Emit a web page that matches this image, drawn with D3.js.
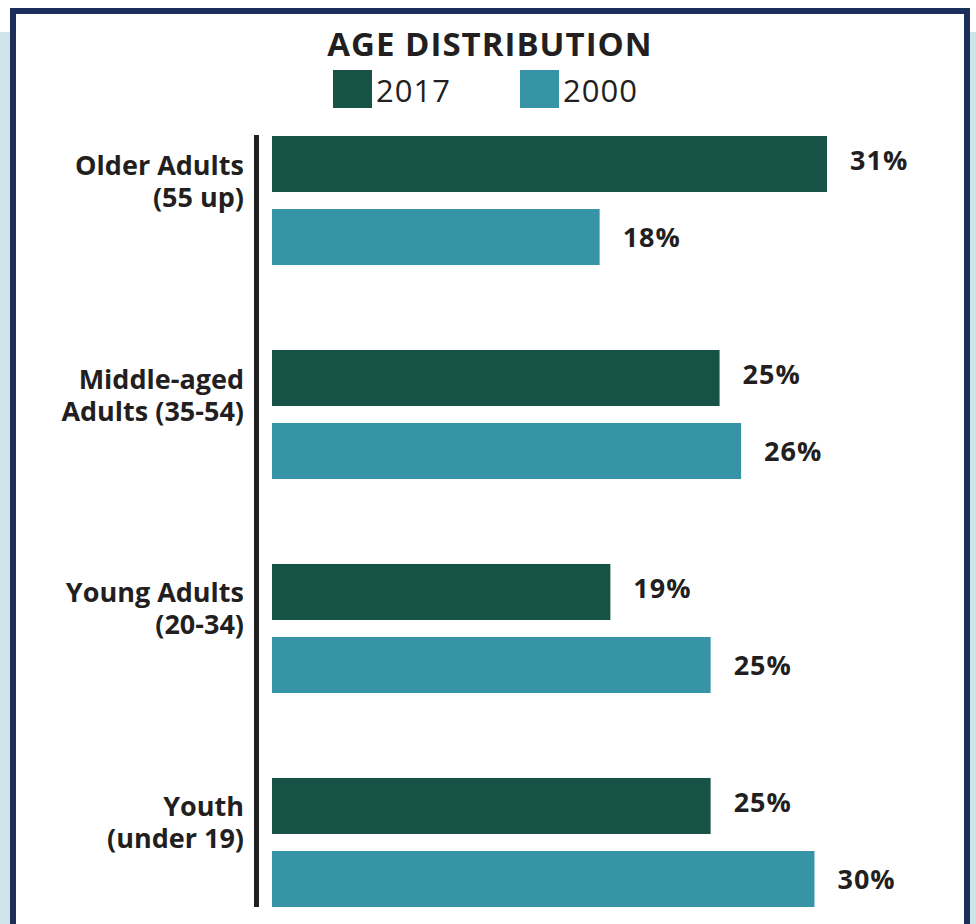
<!DOCTYPE html>
<html>
<head>
<meta charset="utf-8">
<script src="https://cdn.jsdelivr.net/npm/d3@7"></script>
<style>
  body { margin: 0; background: #ffffff; }
  text { font-family: "Open Sans", "DejaVu Sans", sans-serif; fill: #231f20; }
</style>
</head>
<body>
<div id="chart"></div>
<script>
// data
var categories = ["Older Adults|(55 up)", "Middle-aged|Adults (35-54)", "Young Adults|(20-34)", "Youth|(under 19)"];
var seriesNames = ["2017", "2000"];
var values2017 = [31.0, 25.0, 18.9, 24.5];
var values2000 = [18.3, 26.2, 24.5, 30.3];
var valueLabels2017 = ["31%", "25%", "19%", "25%"];
var valueLabels2000 = ["18%", "26%", "25%", "30%"];
var colors = ["#165346", "#3793a6"];

var svgWidth = 976;
var svgHeight = 924;

var svg = d3.select("#chart")
  .append("svg")
  .attr("width", svgWidth)
  .attr("height", svgHeight);

// light blue page behind the panel
svg.append("rect")
  .attr("x", 0)
  .attr("y", 32)
  .attr("width", svgWidth)
  .attr("height", svgHeight - 32)
  .attr("fill", "#cfe4ea");

// white panel with navy border
svg.append("rect")
  .attr("x", 13)
  .attr("y", 11)
  .attr("width", 954)
  .attr("height", 940)
  .attr("fill", "#ffffff")
  .attr("stroke", "#1b2f5a")
  .attr("stroke-width", 6);

// title
svg.append("text")
  .attr("x", 490)
  .attr("y", 56)
  .attr("text-anchor", "middle")
  .style("font-size", "33px")
  .style("font-weight", "bold")
  .style("letter-spacing", "1px")
  .text("AGE DISTRIBUTION");

// legend
var legendX = [333, 520];
var legend = svg.selectAll(".legend")
  .data(seriesNames)
  .enter()
  .append("g")
  .attr("class", "legend")
  .attr("transform", (d, i) => `translate(${legendX[i]}, 70)`);

legend.append("rect")
  .attr("width", 39)
  .attr("height", 38)
  .attr("fill", (d, i) => colors[i]);

legend.append("text")
  .attr("x", 43)
  .attr("y", 32)
  .style("font-size", "31px")
  .style("letter-spacing", "1px")
  .text(d => d);

// scales
var x = d3.scaleLinear()
  .domain([0, 31])
  .range([272, 827]);

var y0 = d3.scaleBand()
  .domain(categories)
  .range([136, 907])
  .paddingInner(0.397)
  .paddingOuter(0);

var y1 = d3.scaleBand()
  .domain(seriesNames)
  .range([0, y0.bandwidth()])
  .paddingInner(0.233)
  .paddingOuter(0);

var rows = categories.map(function(c, i) {
  return {
    cat: c,
    bars: [
      { key: "2017", value: values2017[i], label: valueLabels2017[i], color: colors[0], shift: -4 },
      { key: "2000", value: values2000[i], label: valueLabels2000[i], color: colors[1], shift: 0 }
    ]
  };
});

// left axis line
var leftAxis = d3.axisLeft(y0).tickSize(0).tickFormat("");
var axisG = svg.append("g")
  .attr("transform", "translate(256.5, 0)")
  .call(leftAxis);
axisG.select(".domain")
  .attr("stroke", "#231f20")
  .attr("stroke-width", 5)
  .attr("d", `M0,${y0.range()[0] - 1}V${y0.range()[1]}`);

// category labels
var catLabels = svg.selectAll(".cat")
  .data(rows)
  .enter()
  .append("text")
  .attr("class", "cat")
  .attr("text-anchor", "end")
  .style("font-size", "27px")
  .style("font-weight", "bold");

catLabels.selectAll("tspan")
  .data(d => d.cat.split("|").map(t => ({ t: t, c: d.cat })))
  .enter()
  .append("tspan")
  .attr("x", 244)
  .attr("y", (d, i) => y0(d.c) + y0.bandwidth() / 2 - 26 + i * 32)
  .text(d => d.t);

// bars
var groups = svg.selectAll(".group")
  .data(rows)
  .enter()
  .append("g")
  .attr("class", "group")
  .attr("transform", d => `translate(0, ${y0(d.cat)})`);

groups.selectAll("rect")
  .data(d => d.bars)
  .enter()
  .append("rect")
  .attr("x", x(0))
  .attr("y", d => y1(d.key))
  .attr("width", d => x(d.value) - x(0))
  .attr("height", y1.bandwidth())
  .attr("fill", d => d.color);

groups.selectAll(".val")
  .data(d => d.bars)
  .enter()
  .append("text")
  .attr("class", "val")
  .attr("x", d => x(d.value) + 23)
  .attr("y", d => y1(d.key) + y1.bandwidth() / 2 + d.shift)
  .attr("dy", "0.36em")
  .style("font-size", "27px")
  .style("font-weight", "bold")
  .style("letter-spacing", "1px")
  .text(d => d.label);
</script>
</body>
</html>
